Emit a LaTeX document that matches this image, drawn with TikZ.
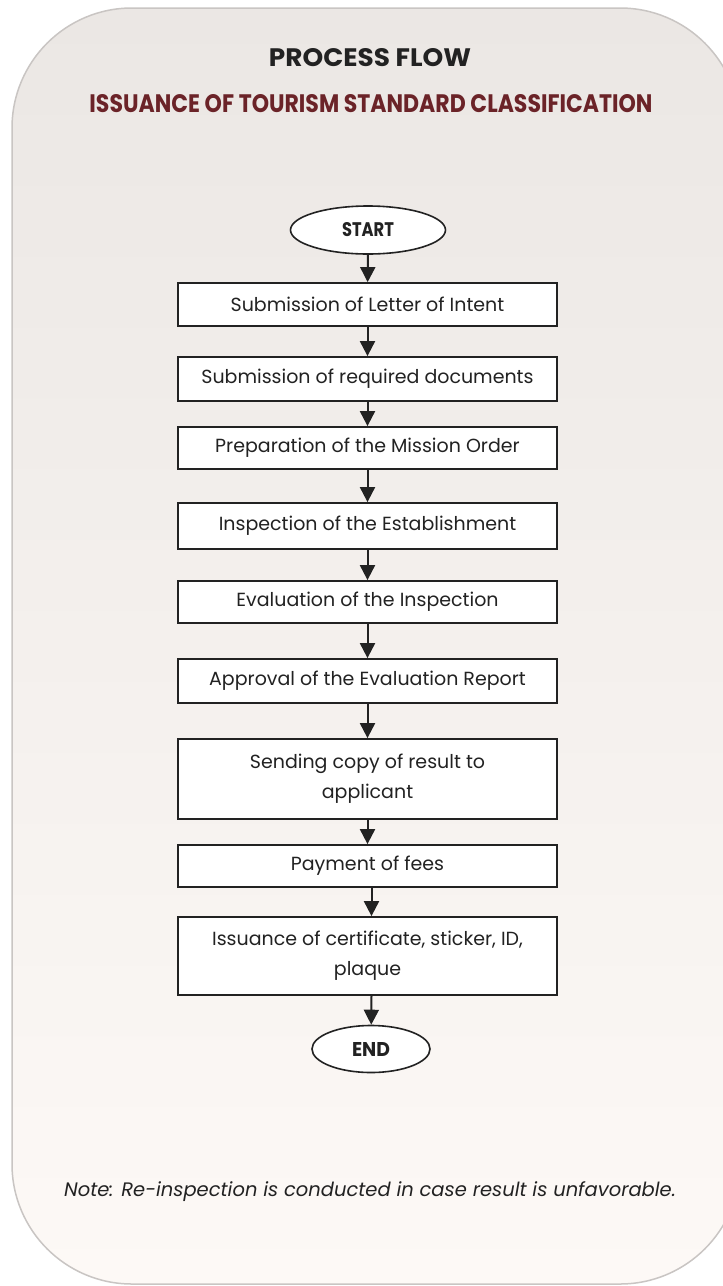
\documentclass[tikz,border=0pt]{standalone}
\usepackage{fontspec}
\setmainfont{Poppins}
\usetikzlibrary{shapes.geometric,arrows.meta}
\definecolor{ink}{HTML}{222222}
\definecolor{maroon}{HTML}{6B2328}
\definecolor{paneltop}{HTML}{EBE7E4}
\definecolor{panelbot}{HTML}{FDF9F6}
\definecolor{panelrim}{HTML}{C9C5C3}
\tikzset{
  stepbox/.style={draw=ink, line width=1.8pt, fill=white, minimum width=379pt, inner sep=0pt, align=center, text=ink, font=\fontsize{19}{30}\selectfont},
  term/.style={draw=ink, line width=1.6pt, fill=white, ellipse, inner sep=0pt, text=ink},
  arr/.style={draw=ink, line width=2pt, -{Triangle[width=15pt,length=15pt]}},
}
\begin{document}
\begin{tikzpicture}[x=1pt,y=-1pt]
\useasboundingbox (0,0) rectangle (723,1286);
\fill[white] (0,0) rectangle (723,1286);
\path[draw=panelrim, line width=1.5pt, top color=paneltop, bottom color=panelbot, rounded corners=120pt] (12,8) rectangle (740,1284);

\node[text=ink] (title) at (370,58) {\resizebox{202pt}{18pt}{\bfseries PROCESS FLOW}};
\node[text=maroon] (sub) at (371,104) {\resizebox{563pt}{18pt}{\bfseries ISSUANCE OF TOURISM STANDARD CLASSIFICATION}};

\node[term, minimum width=155pt, minimum height=48pt] (start) at (368,230) {\resizebox{52pt}{14pt}{\bfseries START}};
\node[stepbox, minimum height=43pt] (b1) at (367.5,304.5) {Submission of Letter of Intent};
\node[stepbox, minimum height=44pt] (b2) at (367.5,379) {Submission of required documents};
\node[stepbox, minimum height=42pt] (b3) at (367.5,448) {\raisebox{-2pt}{Preparation of the Mission Order}};
\node[stepbox, minimum height=46pt] (b4) at (367.5,526) {Inspection of the Establishment};
\node[stepbox, minimum height=42pt] (b5) at (367.5,602) {\raisebox{-2pt}{Evaluation of the Inspection}};
\node[stepbox, minimum height=44pt] (b6) at (367.5,681) {Approval of the Evaluation Report};
\node[stepbox, minimum height=80pt] (b7) at (367.5,779) {Sending copy of result to\\applicant};
\node[stepbox, minimum height=42pt] (b8) at (367.5,866) {\raisebox{-2pt}{Payment of fees}};
\node[stepbox, minimum height=78pt] (b9) at (367.5,956) {Issuance of certificate, sticker, ID,\\plaque};
\node[term, minimum width=118pt, minimum height=47pt] (end) at (371,1049) {\resizebox{38pt}{14pt}{\bfseries END}};

\draw[arr] (start) -- (b1);
\draw[arr] (b1) -- (b2);
\draw[arr] (b2) -- (b3);
\draw[arr] (b3) -- (b4);
\draw[arr] (b4) -- (b5);
\draw[arr] (b5) -- (b6);
\draw[arr] (b6) -- (b7);
\draw[arr] (b7) -- (b8);
\draw[arr] ([xshift=4pt]b8.south) -- ([xshift=4pt]b9.north);
\draw[arr] ([xshift=4pt]b9.south) -- (end);

\node[text=ink, font=\fontsize{19.5}{24}\selectfont\itshape] (note) at (370,1192) {Note: Re-inspection is conducted in case result is unfavorable.};
\end{tikzpicture}
\end{document}
